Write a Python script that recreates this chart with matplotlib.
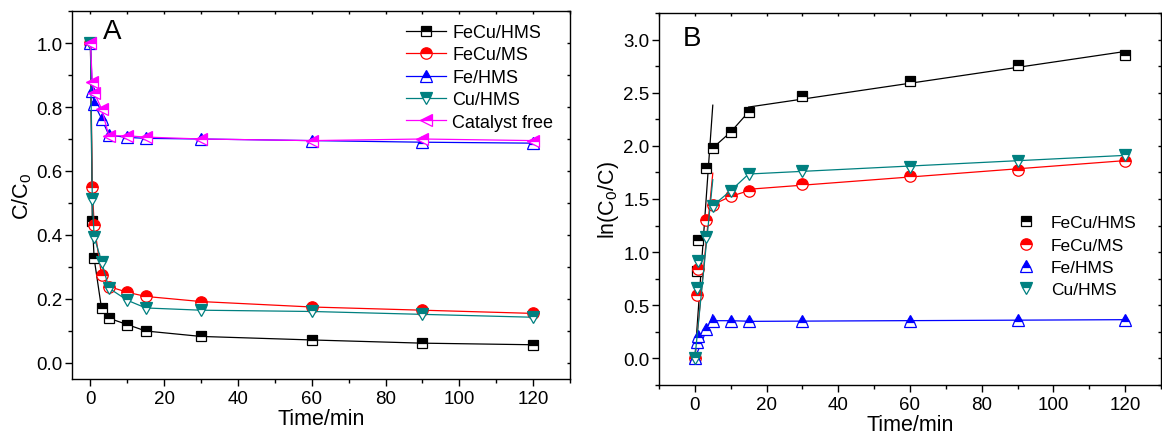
import numpy as np
import matplotlib
matplotlib.use("Agg")
import matplotlib.pyplot as plt
from matplotlib.lines import Line2D
from matplotlib.ticker import MultipleLocator, FormatStrFormatter

plt.rcParams['font.family'] = ['Liberation Sans', 'DejaVu Sans']
plt.rcParams['mathtext.fontset'] = 'custom'
plt.rcParams['mathtext.rm'] = 'Liberation Sans'
plt.rcParams['mathtext.it'] = 'Liberation Sans:italic'
plt.rcParams['mathtext.default'] = 'regular'

# reaction time (min)
time_min = [0, 0.5, 1, 3, 5, 10, 15, 30, 60, 90, 120]

# panel A: residual fraction C/C0
a_fecu_hms = [1.0, 0.444, 0.327, 0.171, 0.140, 0.120, 0.100, 0.083, 0.072, 0.062, 0.057]
a_fecu_ms = [1.0, 0.551, 0.431, 0.275, 0.239, 0.221, 0.208, 0.192, 0.175, 0.165, 0.155]
a_fe_hms = [1.0, 0.850, 0.810, 0.764, 0.712, 0.705, 0.702, 0.700, 0.695, 0.690, 0.687]
a_cu_hms = [1.0, 0.512, 0.395, 0.317, 0.234, 0.196, 0.172, 0.165, 0.161, 0.152, 0.143]
a_cat_free = [1.0, 0.878, 0.845, 0.795, 0.710, 0.710, 0.706, 0.700, 0.695, 0.700, 0.695]

# panel B: ln(C0/C)
b_fecu_hms = [0.0, 0.825, 1.115, 1.79, 1.98, 2.13, 2.32, 2.47, 2.61, 2.765, 2.856]
b_fecu_ms = [0.0, 0.60, 0.84, 1.305, 1.446, 1.525, 1.578, 1.64, 1.72, 1.776, 1.86]
b_fe_hms = [0.0, 0.15, 0.21, 0.28, 0.355, 0.355, 0.35, 0.35, 0.355, 0.36, 0.365]
b_cu_hms = [0.0, 0.66, 0.92, 1.14, 1.437, 1.578, 1.735, 1.767, 1.80, 1.86, 1.914]

labels_a = ['FeCu/HMS', 'FeCu/MS', 'Fe/HMS', 'Cu/HMS', 'Catalyst free']
labels_b = ['FeCu/HMS', 'FeCu/MS', 'Fe/HMS', 'Cu/HMS']

colors = ['#000000', '#FF0000', '#0000FF', '#008080', '#FF00FF']
markers = ['s', 'o', '^', 'v', '<']
msizes = [7.8, 8.2, 9.3, 9.3, 9.3]

W, H = 1162, 439
fig = plt.figure(figsize=(W / 100, H / 100), dpi=100)
axA = fig.add_axes([72 / W, 1 - 380 / H, (570 - 72) / W, (380 - 12) / H])
axB = fig.add_axes([659 / W, 1 - 386 / H, (1161 - 659) / W, (386 - 14) / H])


def mstyle(i):
    c = colors[i]
    return dict(marker=markers[i], ms=msizes[i], mfc=c, mec=c, mew=0.9,
                markerfacecoloralt='white', fillstyle='top')


t = np.array(time_min, dtype=float)

# --- panel A: line + symbol
for i, (vals, name) in enumerate(zip([a_fecu_hms, a_fecu_ms, a_fe_hms, a_cu_hms, a_cat_free], labels_a)):
    axA.plot(t, vals, color=colors[i], lw=0.9, label=name, **mstyle(i))

# --- panel B: symbols with piecewise kinetic fits
handles_b = []
for i, (vals, name) in enumerate(zip([b_fecu_hms, b_fecu_ms, b_fe_hms, b_cu_hms], labels_b)):
    y = np.array(vals)
    c = colors[i]
    early = t <= 5
    k = np.sum(t[early] * y[early]) / np.sum(t[early] ** 2)
    axB.plot([0, 5], [0, 5 * k], color=c, lw=0.9)
    mid = (t >= 5) & (t <= 15)
    axB.plot(t[mid], y[mid], color=c, lw=0.9)
    late = t >= 15
    p = np.polyfit(t[late], y[late], 1)
    xl = np.array([15, 120])
    axB.plot(xl, np.polyval(p, xl), color=c, lw=0.9)
    axB.plot(t, y, ls='none', **mstyle(i))
    handles_b.append(Line2D([], [], ls='none', **mstyle(i)))


def style_axes(ax, xlim, ylim, xmaj, xmin, ymaj, ymin):
    ax.set_xlim(*xlim)
    ax.set_ylim(*ylim)
    ax.xaxis.set_major_locator(MultipleLocator(xmaj))
    ax.xaxis.set_minor_locator(MultipleLocator(xmin))
    ax.yaxis.set_major_locator(MultipleLocator(ymaj))
    ax.yaxis.set_minor_locator(MultipleLocator(ymin))
    ax.yaxis.set_major_formatter(FormatStrFormatter('%.1f'))
    ax.tick_params(which='both', direction='out', width=1.0, labelsize=13.5,
                   top=False, right=False)
    ax.tick_params(which='major', length=4.8)
    ax.tick_params(which='minor', length=2.6)
    ax.tick_params(axis='x', pad=3)
    ax.tick_params(axis='y', pad=2)
    for s in ax.spines.values():
        s.set_linewidth(1.0)
    # inward ticks along the top and right frame
    top = ax.secondary_xaxis('top')
    top.xaxis.set_major_locator(MultipleLocator(xmaj))
    top.xaxis.set_minor_locator(MultipleLocator(xmin))
    top.tick_params(which='both', direction='in', length=2.2, width=1.0, labeltop=False)
    top.spines['top'].set_visible(False)
    right = ax.secondary_yaxis('right')
    right.yaxis.set_major_locator(MultipleLocator(ymaj))
    right.yaxis.set_minor_locator(MultipleLocator(ymin))
    right.tick_params(which='both', direction='in', length=2.2, width=1.0, labelright=False)
    right.spines['right'].set_visible(False)


style_axes(axA, (-5, 130), (-0.05, 1.10), 20, 10, 0.2, 0.1)
style_axes(axB, (-10, 130), (-0.25, 3.25), 20, 10, 0.5, 0.25)

axA.set_xlabel('Time/min', fontsize=15.5, labelpad=1)
axB.set_xlabel('Time/min', fontsize=15.5, labelpad=1)
axA.set_ylabel('C/C$_0$', fontsize=15.5, labelpad=2)
axB.set_ylabel('ln(C$_0$/C)', fontsize=15.5, labelpad=2)

axA.legend(loc='upper left', bbox_to_anchor=(406 / W, 1 - 25 / H),
           bbox_transform=fig.transFigure, frameon=False, fontsize=13,
           handlelength=2.2, handletextpad=0.35, labelspacing=0.3,
           borderpad=0, borderaxespad=0)
axB.legend(handles_b, labels_b, loc='upper left', bbox_to_anchor=(1016 / W, 1 - 216 / H),
           bbox_transform=fig.transFigure, frameon=False, fontsize=12.5,
           handlelength=1.2, handletextpad=0.8, labelspacing=0.42,
           borderpad=0, borderaxespad=0)

fig.text(103 / W, 1 - 19 / H, 'A', fontsize=20, va='top', ha='left')
fig.text(683 / W, 1 - 26 / H, 'B', fontsize=20, va='top', ha='left')

fig.savefig('out.png', dpi=100)
